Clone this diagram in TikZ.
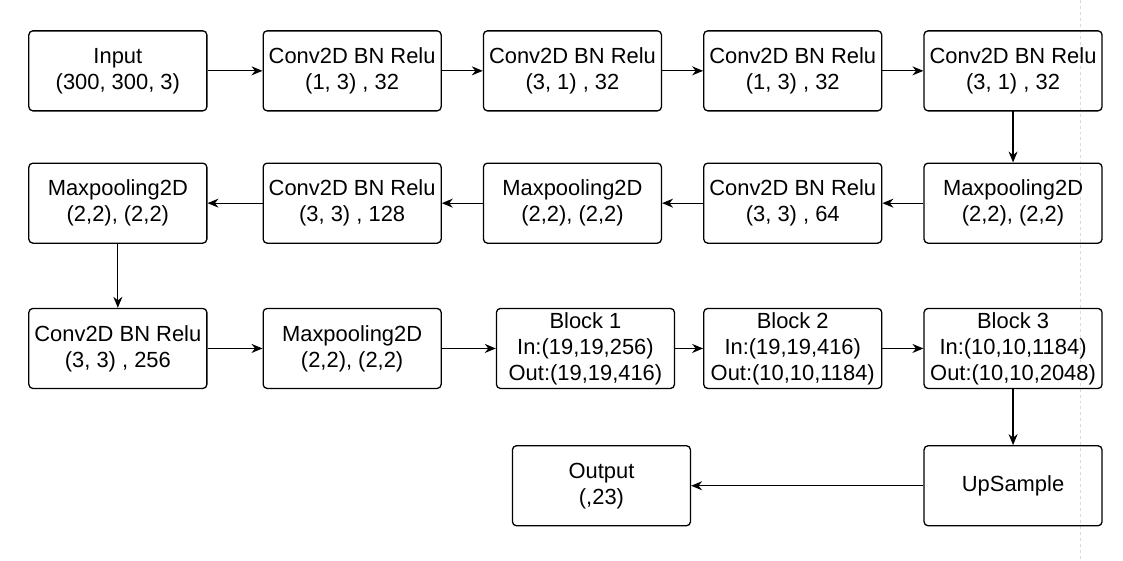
\documentclass[tikz,border=0pt]{standalone}
\usepackage{fontspec}
\setmainfont{Liberation Sans}
\usetikzlibrary{matrix,arrows.meta}

\begin{document}
\begin{tikzpicture}[x=1bp, y=-1bp,
    layer/.style={draw, line width=1.3bp, rounded corners=4bp, minimum width=178bp, minimum height=80bp,
        inner sep=1bp, align=center, font=\fontsize{22}{26}\selectfont},
    flow/.style={-{Stealth[length=11bp,width=9bp]}, line width=1.2bp}]
\useasboundingbox (0,0) rectangle (1123,561);
\draw [black!15, dashed, line width=0.8bp] (1080,0) -- (1080,561);
\matrix (m) [ampersand replacement=\&, column sep=41bp, row sep=51bp, inner sep=0pt, anchor=north west] at (28,30)
{
\node [layer] (input) {Input\\(300, 300, 3)}; \&[14bp]
\node [layer] (conv1) {Conv2D BN Relu\\(1, 3) , 32}; \&
\node [layer] (conv2) {Conv2D BN Relu\\(3, 1) , 32}; \&
\node [layer] (conv3) {Conv2D BN Relu\\(1, 3) , 32}; \&
\node [layer] (conv4) {Conv2D BN Relu\\(3, 1) , 32}; \\
\node [layer] (pool3) {Maxpooling2D\\(2,2), (2,2)}; \&
\node [layer] (conv6) {Conv2D BN Relu\\(3, 3) , 128}; \&
\node [layer] (pool2) {Maxpooling2D\\(2,2), (2,2)}; \&
\node [layer] (conv5) {Conv2D BN Relu\\(3, 3) , 64}; \&
\node [layer] (pool1) {Maxpooling2D\\(2,2), (2,2)}; \\[13bp]
\node [layer] (conv7) {Conv2D BN Relu\\(3, 3) , 256}; \&
\node [layer] (pool4) {Maxpooling2D\\(2,2), (2,2)}; \&
\node [layer, overlay, xshift=13bp] (block1) {Block 1\\In:(19,19,256)\\Out:(19,19,416)}; \&
\node [layer] (block2) {Block 2\\In:(19,19,416)\\Out:(10,10,1184)}; \&
\node [layer] (block3) {Block 3\\In:(10,10,1184)\\Out:(10,10,2048)}; \\[5bp]
\& \&
\node [layer, overlay, xshift=29bp] (output) {Output\\(,23)}; \& \&
\node [layer] (upsample) {UpSample}; \\
};

\draw [flow] (input) -- (conv1);
\draw [flow] (conv1) -- (conv2);
\draw [flow] (conv2) -- (conv3);
\draw [flow] (conv3) -- (conv4);
\draw [flow] (conv4) -- (pool1);
\draw [flow] (pool1) -- (conv5);
\draw [flow] (conv5) -- (pool2);
\draw [flow] (pool2) -- (conv6);
\draw [flow] (conv6) -- (pool3);
\draw [flow] (pool3) -- (conv7);
\draw [flow] (conv7) -- (pool4);
\draw [flow] (pool4) -- (block1);
\draw [flow] (block1) -- (block2);
\draw [flow] (block2) -- (block3);
\draw [flow] (block3) -- (upsample);
\draw [flow] (upsample) -- (output);

\end{tikzpicture}
\end{document}
